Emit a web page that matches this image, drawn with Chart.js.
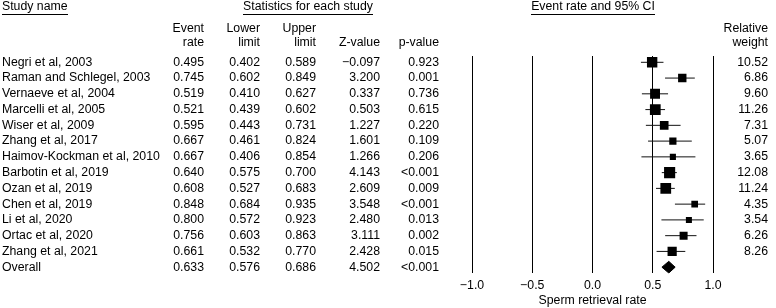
<!DOCTYPE html>
<html>
<head>
<meta charset="utf-8">
<script src="https://cdn.jsdelivr.net/npm/chart.js@4.4.1/dist/chart.umd.min.js"></script>
<style>
  body { margin: 0; background: #fff; }
  #wrap { width: 776px; height: 308px; position: relative; }
</style>
</head>
<body>
<div id="wrap"><canvas id="forest"></canvas></div>
<script>
// datos (la ultima fila es el resultado global)
const studies = ['Negri et al, 2003', 'Raman and Schlegel, 2003', 'Vernaeve et al, 2004', 'Marcelli et al, 2005',
  'Wiser et al, 2009', 'Zhang et al, 2017', 'Haimov-Kockman et al, 2010', 'Barbotin et al, 2019',
  'Ozan et al, 2019', 'Chen et al, 2019', 'Li et al, 2020', 'Ortac et al, 2020', 'Zhang et al, 2021', 'Overall'];
const eventRate = [0.495, 0.745, 0.519, 0.521, 0.595, 0.667, 0.667, 0.640, 0.608, 0.848, 0.800, 0.756, 0.661, 0.633];
const lowerLimit = [0.402, 0.602, 0.410, 0.439, 0.443, 0.461, 0.406, 0.575, 0.527, 0.684, 0.572, 0.603, 0.532, 0.576];
const upperLimit = [0.589, 0.849, 0.627, 0.602, 0.731, 0.824, 0.854, 0.700, 0.683, 0.935, 0.923, 0.863, 0.770, 0.686];
const zValue = [-0.097, 3.200, 0.337, 0.503, 1.227, 1.601, 1.266, 4.143, 2.609, 3.548, 2.480, 3.111, 2.428, 4.502];
const pValue = ['0.923', '0.001', '0.736', '0.615', '0.220', '0.109', '0.206', '<0.001', '0.009', '<0.001',
  '0.013', '0.002', '0.015', '<0.001'];
const weight = [10.52, 6.86, 9.60, 11.26, 7.31, 5.07, 3.65, 12.08, 11.24, 4.35, 3.54, 6.26, 8.26, null];
const xTicks = [-1.0, -0.5, 0.0, 0.5, 1.0];

const FONT_SIZE = 12.3;
const FONT = FONT_SIZE + 'px "Liberation Sans", Arial, sans-serif';
Chart.defaults.font.family = '"Liberation Sans", Arial, sans-serif';
Chart.defaults.font.size = FONT_SIZE;
Chart.defaults.color = '#000';

const nStudies = studies.length - 1;
const overallIdx = studies.length - 1;
const minus = s => s.replace('-', '\u2212');

// cuadrados, tamaño segun el peso relativo
const squares = [];
const squareRadius = [];
for (let i = 0; i < nStudies; i++) {
    squares.push({ x: eventRate[i], y: i });
    squareRadius.push(3.2 * Math.sqrt(weight[i]) / Math.SQRT2);
}

// una linea por estudio para el IC 95%
const ciSets = [];
for (let i = 0; i < nStudies; i++) {
    ciSets.push({
        type: 'scatter',
        data: [{ x: lowerLimit[i], y: i }, { x: upperLimit[i], y: i }],
        showLine: true,
        borderColor: '#111',
        borderWidth: 1,
        pointRadius: 0,
        order: 2
    });
}

// rombo del resultado global
const dh = 0.37;
const diamond = [
    { x: lowerLimit[overallIdx], y: overallIdx },
    { x: eventRate[overallIdx], y: overallIdx - dh },
    { x: upperLimit[overallIdx], y: overallIdx },
    { x: eventRate[overallIdx], y: overallIdx + dh },
    { x: lowerLimit[overallIdx], y: overallIdx }
];

const COLS = { rate: 204, lower: 260, upper: 316, z: 380, p: 439, w: 768 };

function underlined(ctx, text, x, y, align) {
    ctx.textAlign = align;
    ctx.fillText(text, x, y);
    const w = ctx.measureText(text).width;
    const x0 = align === 'center' ? x - w / 2 : x;
    ctx.fillRect(Math.round(x0), Math.round(y + 7), Math.round(w), 1);
}

const tablePlugin = {
    id: 'tabla',
    afterDraw(chart) {
        const ctx = chart.ctx;
        const ys = chart.scales.y;
        ctx.save();
        ctx.fillStyle = '#000';
        ctx.font = FONT;
        ctx.textBaseline = 'middle';

        underlined(ctx, 'Study name', 2, 7, 'left');
        underlined(ctx, 'Statistics for each study', 308, 7, 'center');
        underlined(ctx, 'Event rate and 95% CI', 593, 7, 'center');

        ctx.textAlign = 'right';
        ctx.fillText('Event', COLS.rate, 29);
        ctx.fillText('rate', COLS.rate, 43);
        ctx.fillText('Lower', COLS.lower, 29);
        ctx.fillText('limit', COLS.lower, 43);
        ctx.fillText('Upper', COLS.upper, 29);
        ctx.fillText('limit', COLS.upper, 43);
        ctx.fillText('Z-value', COLS.z, 43);
        ctx.fillText('p-value', COLS.p, 43);
        ctx.fillText('Relative', COLS.w, 29);
        ctx.fillText('weight', COLS.w, 43);

        for (let i = 0; i < studies.length; i++) {
            const py = ys.getPixelForValue(i);
            ctx.textAlign = 'left';
            ctx.fillText(studies[i], 2, py);
            ctx.textAlign = 'right';
            ctx.fillText(eventRate[i].toFixed(3), COLS.rate, py);
            ctx.fillText(lowerLimit[i].toFixed(3), COLS.lower, py);
            ctx.fillText(upperLimit[i].toFixed(3), COLS.upper, py);
            ctx.fillText(minus(zValue[i].toFixed(3)), COLS.z, py);
            ctx.fillText(pValue[i], COLS.p, py);
            if (weight[i] !== null) {
                ctx.fillText(weight[i].toFixed(2), COLS.w, py);
            }
        }
        ctx.restore();
    }
};

new Chart(document.getElementById('forest'), {
    type: 'scatter',
    data: {
        datasets: [
            {
                data: squares,
                pointStyle: 'rect',
                pointRadius: squareRadius,
                backgroundColor: '#000',
                borderColor: '#000',
                borderWidth: 0,
                order: 0
            },
            {
                data: diamond,
                showLine: true,
                fill: 'shape',
                backgroundColor: '#000',
                borderColor: '#000',
                borderWidth: 1,
                pointRadius: 0,
                order: 1
            },
            ...ciSets
        ]
    },
    options: {
        responsive: true,
        maintainAspectRatio: false,
        animation: false,
        events: [],
        layout: { padding: { left: 472, right: 63, top: 56, bottom: 0 } },
        scales: {
            x: {
                type: 'linear',
                min: -1,
                max: 1,
                afterBuildTicks: axis => { axis.ticks = xTicks.map(v => ({ value: v })); },
                ticks: {
                    padding: 5,
                    callback: v => minus(Number(v).toFixed(1))
                },
                grid: { color: '#000', lineWidth: 1, drawTicks: false },
                border: { display: false },
                title: {
                    display: true,
                    text: 'Sperm retrieval rate',
                    padding: { top: -5, bottom: 0 }
                }
            },
            y: {
                type: 'linear',
                display: false,
                reverse: true,
                min: -0.4,
                max: 13.4
            }
        },
        plugins: {
            legend: { display: false },
            tooltip: { enabled: false }
        }
    },
    plugins: [tablePlugin]
});
</script>
</body>
</html>
